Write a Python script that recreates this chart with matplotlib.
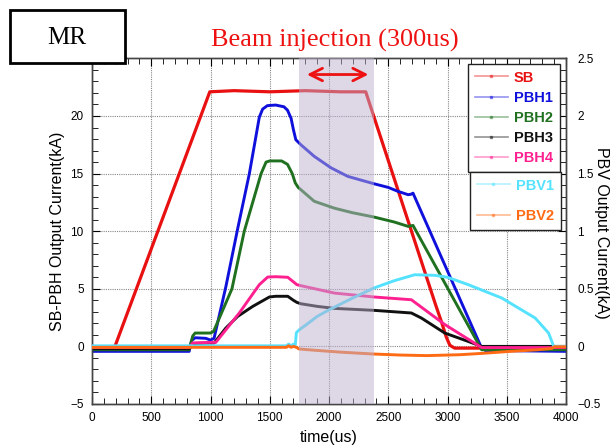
import matplotlib
matplotlib.use("Agg")
import matplotlib.pyplot as plt
from matplotlib.lines import Line2D
from matplotlib.patches import Rectangle
from matplotlib.ticker import MultipleLocator

# ---------------- data ----------------
sb_t = [0, 190, 994, 1200, 1500, 1800, 2100, 2310, 2900, 2950, 2990, 3020, 3060, 3290, 3330, 4000]
sb_v = [-0.1, -0.1, 22.1, 22.2, 22.1, 22.2, 22.1, 22.1, 3.6, 2.1, 0.8, 0.1, -0.15, -0.15, -0.15, -0.1]

pbh1_t = [0, 820, 840, 870, 960, 1000, 1030, 1130, 1229, 1328, 1412, 1440, 1480, 1550, 1620, 1650,
          1680, 1700, 1720, 1763, 1875, 2017, 2158, 2379, 2500, 2582, 2667, 2690, 2709, 2750, 3288, 3320, 4000]
pbh1_v = [-0.43, -0.43, 0.5, 0.75, 0.7, 0.55, 0.7, 5.2, 10.2, 15.0, 19.9, 20.6, 20.9, 20.95, 20.8, 20.5,
          19.8, 18.8, 17.94, 17.5, 16.5, 15.5, 14.76, 14.12, 13.8, 13.46, 13.17, 13.2, 13.3, 12.35, -0.15, -0.35, -0.43]

pbh2_t = [0, 820, 850, 870, 1000, 1026, 1181, 1285, 1427, 1469, 1500, 1600, 1650, 1690, 1715, 1740,
          1763, 1875, 2045, 2200, 2379, 2550, 2667, 2709, 3288, 4000]
pbh2_v = [-0.29, -0.29, 0.9, 1.16, 1.16, 1.3, 5.0, 10.0, 15.0, 16.0, 16.1, 16.1, 15.8, 15.0, 14.2, 13.8,
          13.6, 12.6, 12.0, 11.6, 11.23, 10.8, 10.42, 10.5, -0.29, -0.29]

pbh3_t = [0, 820, 850, 1000, 1031, 1130, 1229, 1356, 1497, 1550, 1652, 1700, 1729, 1763, 1904, 2045,
          2379, 2695, 2780, 2977, 3175, 3288, 4000]
pbh3_v = [-0.2, -0.2, 0.25, 0.3, 0.3, 1.6, 2.6, 3.47, 4.29, 4.35, 4.35, 4.0, 3.82, 3.7, 3.47, 3.3,
          3.13, 2.9, 2.46, 1.16, 0.43, 0.0, 0.0]

pbh4_t = [0, 820, 850, 1000, 1045, 1243, 1412, 1483, 1550, 1652, 1700, 1729, 1763, 2045, 2379, 2695,
          2977, 3288, 4000]
pbh4_v = [-0.1, -0.1, 0.3, 0.35, 0.35, 2.9, 5.36, 6.02, 6.05, 6.0, 5.6, 5.36, 5.27, 4.63, 4.29, 4.05,
          1.9, -0.1, -0.1]

pbv1_t = [0, 1640, 1660, 1680, 1700, 1715, 1725, 1750, 1808, 1900, 2003, 2200, 2379, 2550, 2723, 2893,
          3000, 3175, 3458, 3740, 3853, 3896, 4000]
pbv1_v = [0.005, 0.005, 0.02, 0.005, 0.02, 0.01, 0.12, 0.145, 0.188, 0.26, 0.319, 0.42, 0.507, 0.57, 0.622, 0.617,
          0.6, 0.536, 0.42, 0.246, 0.116, 0.0, 0.0]

pbv2_t = [0, 1640, 1660, 1680, 1700, 1730, 1745, 1900, 2100, 2373, 2600, 2825, 3107, 3300, 3531, 3750,
          3880, 3900, 4000]
pbv2_v = [-0.008, -0.008, 0.005, -0.008, 0.0, -0.01, -0.022, -0.035, -0.05, -0.066, -0.075, -0.08, -0.072,
          -0.06, -0.043, -0.03, -0.018, -0.003, -0.003]

injection_span = [1750, 2380]
arrow_span = [1790, 2356]

left_series = [("SB", sb_t, sb_v, "#e81010"),
               ("PBH1", pbh1_t, pbh1_v, "#1010dc"),
               ("PBH2", pbh2_t, pbh2_v, "#1f701f"),
               ("PBH3", pbh3_t, pbh3_v, "#101010"),
               ("PBH4", pbh4_t, pbh4_v, "#ff2090")]
right_series = [("PBV1", pbv1_t, pbv1_v, "#55e2ff"),
                ("PBV2", pbv2_t, pbv2_v, "#ff6a14")]

# ---------------- figure ----------------
W, H = 611, 446
fig = plt.figure(figsize=(W / 100, H / 100), dpi=100)
ax = fig.add_axes([92 / W, (H - 404) / H, (566 - 92) / W, (404 - 58.4) / H])
ax2 = ax.twinx()

tick_font = "Liberation Sans"
for name, t, v, c in left_series:
    ax.plot(t, v, color=c, lw=2.3 if name == "SB" else 2.1, zorder=3)
for name, t, v, c in right_series:
    ax2.plot(t, v, color=c, lw=2.1, zorder=3)

ax.set_xlim(0, 4000)
ax.set_ylim(-5, 25)
ax2.set_ylim(-0.5, 2.5)

ax.xaxis.set_major_locator(MultipleLocator(500))
ax.xaxis.set_minor_locator(MultipleLocator(100))
ax.yaxis.set_major_locator(MultipleLocator(5))
ax.yaxis.set_minor_locator(MultipleLocator(1))
ax2.yaxis.set_major_locator(MultipleLocator(0.5))
ax2.yaxis.set_minor_locator(MultipleLocator(0.1))

ax.tick_params(axis="x", which="both", direction="in", top=True, bottom=True, labelsize=8.5, pad=6)
ax.tick_params(axis="y", which="both", direction="in", left=True, right=False, labelsize=8.5, pad=6)
ax2.tick_params(axis="y", which="both", direction="in", right=True, labelsize=8.5, pad=8)
ax.tick_params(which="major", length=6)
ax.tick_params(which="minor", length=4)
ax2.tick_params(which="major", length=6)
ax2.tick_params(which="minor", length=4)

ax.set_yticks([-5, 0, 5, 10, 15, 20])
ax.set_yticklabels(["\u22125", "0", "5", "10", "15", "20"])
ax2.set_yticks([-0.5, 0, 0.5, 1, 1.5, 2, 2.5])
ax2.set_yticklabels(["\u22120.5", "0", "0.5", "1", "1.5", "2", "2.5"])
for lab in ax.get_xticklabels() + ax.get_yticklabels() + ax2.get_yticklabels():
    lab.set_fontfamily(tick_font)

ax.grid(True, which="major", color="#888888", linestyle=(0, (1, 1)), linewidth=0.8)
for sp in list(ax.spines.values()) + list(ax2.spines.values()):
    sp.set_color("#444444")
    sp.set_linewidth(1.0)

# shaded beam-injection window drawn over the traces
ax2.axvspan(injection_span[0], injection_span[1], color="#bcb0cf", alpha=0.5, lw=0, zorder=10)
ax2.annotate("", xy=(arrow_span[1], 2.36), xytext=(arrow_span[0], 2.36),
             arrowprops=dict(arrowstyle="<->,head_length=0.9,head_width=0.45", color="#ee1111", lw=2),
             zorder=12)

ax.set_xlabel("time(us)", fontsize=11.5, family="Liberation Sans", labelpad=4)
ax.set_ylabel("SB-PBH Output Current(kA)", fontsize=11.5, family="Liberation Sans", labelpad=4)
fig.text(602 / W, 1 - 233 / H, "PBV Output Current(kA)", rotation=270, ha="center", va="center",
         fontsize=11.5, family="Liberation Sans")

# legends
def make_handles(series):
    return [Line2D([0], [0], color=c, lw=1.2, alpha=0.45, marker="s", markersize=1.6,
                   markerfacecolor=c, markeredgecolor=c) for _, _, _, c in series]

leg1 = ax2.legend(make_handles(left_series), [s[0] for s in left_series],
                  loc="upper left", bbox_to_anchor=(468 / W, 1 - 64 / H), bbox_transform=fig.transFigure,
                  frameon=True, fancybox=False, edgecolor="#222222", framealpha=1,
                  prop={"family": tick_font, "weight": "bold", "size": 10.5},
                  handlelength=2.3, handletextpad=0.4, labelspacing=0.42, borderpad=0.45,
                  borderaxespad=0)
leg1.get_frame().set_linewidth(1.0)
for txt, (_, _, _, c) in zip(leg1.get_texts(), left_series):
    txt.set_color(c)
leg1.set_zorder(20)
ax2.add_artist(leg1)

leg2 = ax2.legend(make_handles(right_series), [s[0] for s in right_series],
                  loc="upper left", bbox_to_anchor=(470 / W, 1 - 172 / H), bbox_transform=fig.transFigure,
                  frameon=True, fancybox=False, edgecolor="#222222", framealpha=1,
                  prop={"family": tick_font, "weight": "bold", "size": 10.5},
                  handlelength=2.3, handletextpad=0.4, labelspacing=1.15, borderpad=0.45,
                  borderaxespad=0)
leg2.get_frame().set_linewidth(1.0)
for txt, (_, _, _, c) in zip(leg2.get_texts(), right_series):
    txt.set_color(c)
leg2.set_zorder(20)

# MR box and title
fig.patches.append(Rectangle((10 / W, 1 - 63 / H), 115 / W, 53 / H, transform=fig.transFigure,
                             fill=True, facecolor="white", edgecolor="black", lw=2, zorder=5))
fig.text(67 / W, 1 - 38 / H, "MR", ha="center", va="center", fontsize=18,
         family="Liberation Serif", zorder=6)
fig.text(335 / W, 1 - 40 / H, "Beam injection (300us)", ha="center", va="center", fontsize=19,
         family="Liberation Serif", color="#ee1111")

fig.savefig("out.png", dpi=100)
